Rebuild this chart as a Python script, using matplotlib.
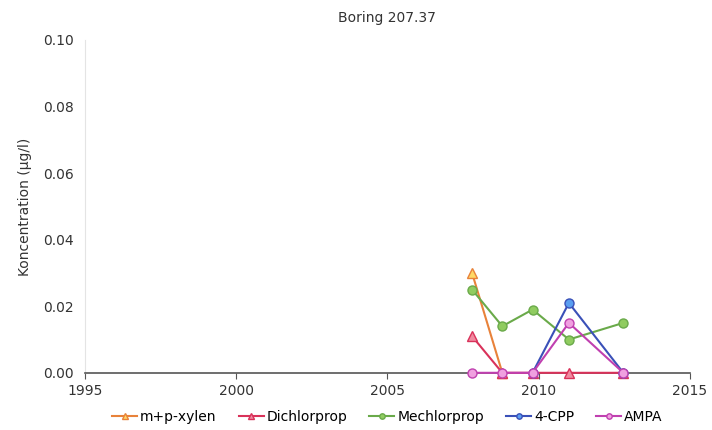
import matplotlib.pyplot as plt

# Data (decimal years)
years_xylen = [2007.8, 2008.8]
xylen = [0.030, 0.0]

years_all = [2007.8, 2008.8, 2009.8, 2011.0, 2012.8]
dichlorprop = [0.011, 0.0, 0.0, 0.0, 0.0]
mechlorprop = [0.025, 0.014, 0.019, 0.010, 0.015]
ampa = [0.0, 0.0, 0.0, 0.015, 0.0]

years_cpp = [2009.8, 2011.0, 2012.8]
cpp = [0.0, 0.021, 0.0]

fig = plt.figure(figsize=(7.12, 4.30), dpi=100)
ax = fig.add_axes([0.119, 0.133, 0.850, 0.774])

style = dict(lw=1.5, ms=6.5, clip_on=False, zorder=3)
ax.plot(years_xylen, xylen, color='#e8823a', marker='^',
        mfc='#ffd966', mec='#e8823a', label='m+p-xylen', **style)
ax.plot(years_all, dichlorprop, color='#d9325a', marker='^',
        mfc='#f08aa0', mec='#d9325a', label='Dichlorprop', **style)
ax.plot(years_all, mechlorprop, color='#6aaa4a', marker='o',
        mfc='#90cc60', mec='#6aaa4a', label='Mechlorprop', **style)
ax.plot(years_cpp, cpp, color='#3a50b8', marker='o',
        mfc='#5a9ef0', mec='#3a50b8', label='4-CPP', **style)
ax.plot(years_all, ampa, color='#c040b0', marker='o',
        mfc='#f0a0e0', mec='#c040b0', label='AMPA', **style)

ax.set_xlim(1995, 2015)
ax.set_ylim(0, 0.1)
ax.set_xticks([1995, 2000, 2005, 2010, 2015])
ax.set_yticks([0, 0.02, 0.04, 0.06, 0.08, 0.10])
ax.set_yticklabels(['0.00', '0.02', '0.04', '0.06', '0.08', '0.10'])
ax.tick_params(axis='both', labelsize=10, colors='#333333', length=0, pad=8)
ax.tick_params(axis='x', length=4, color='#555555', pad=4)

for s in ['top', 'right']:
    ax.spines[s].set_visible(False)
ax.spines['left'].set_color('#e4e4e4')
ax.spines['bottom'].set_color('#555555')
ax.spines['bottom'].set_linewidth(1.2)

ax.set_ylabel('Koncentration (µg/l)', fontsize=10, color='#333333', labelpad=8)
ax.set_title('Boring 207.37', fontsize=10, color='#333333', pad=13)

ax.legend(loc='upper center', bbox_to_anchor=(0.5, -0.075), ncol=5, frameon=False,
          fontsize=10, handlelength=1.8, handletextpad=0.2, columnspacing=1.6,
          markerscale=0.6)

fig.savefig('out.png', dpi=100)
